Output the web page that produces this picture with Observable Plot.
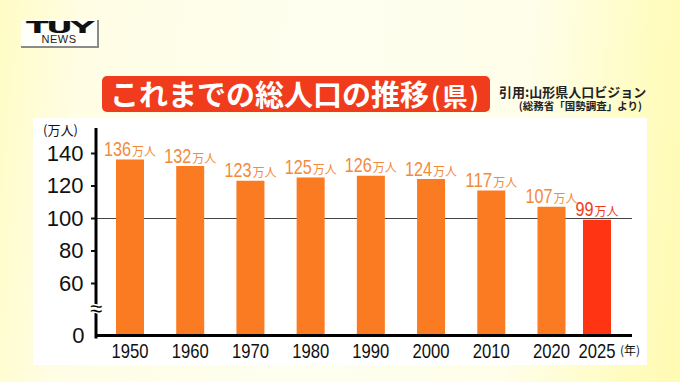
<!DOCTYPE html>
<html><head><meta charset="utf-8">
<script src="https://cdn.jsdelivr.net/npm/d3@7"></script>
<script src="https://cdn.jsdelivr.net/npm/@observablehq/plot@0.6"></script>
<style>
html,body{margin:0;padding:0;}
body{width:680px;height:382px;overflow:hidden;position:relative;
 background:linear-gradient(95deg,#fffcc6 0%,#fffde4 12%,#fefff0 45%,#fefeea 75%,#fffcc0 92%,#fffbb2 100%);
 font-family:"Noto Sans CJK JP","Noto Sans",sans-serif;}
.abs{position:absolute;}
#logo{left:21px;top:20px;width:76px;height:26px;border-right:2px solid #8a8a8a;border-bottom:2px solid #8a8a8a;background:#fffffa;}
#tuy{left:0;top:-4px;width:76px;text-align:center;font-family:"DejaVu Sans",sans-serif;font-weight:900;font-size:19px;color:#111;transform:scale(1.75,0.8);letter-spacing:-1.5px;}
#news{left:0;top:13px;width:76px;text-align:center;font-family:"Liberation Sans",sans-serif;font-size:11px;color:#222;letter-spacing:0.5px;}
#titlebar{left:102px;top:76px;width:388px;height:36px;background:#f03b1d;border-radius:5px;}
#title{left:110px;top:72px;color:#fff;font-weight:bold;font-size:29px;line-height:43px;white-space:nowrap;}
#title small{font-size:25px;letter-spacing:2px;margin-left:2px;}
#credit1{left:499px;top:82px;font-size:13px;font-weight:bold;color:#222;white-space:nowrap;}
#credit2{right:38px;top:98px;font-size:10.5px;font-weight:bold;color:#222;white-space:nowrap;}
#panel{left:33px;top:118px;width:614px;height:247px;background:#fff;}
#unitY{left:43px;top:120px;font-size:13px;color:#111;}
#unitX{left:620px;top:341px;font-size:12px;color:#111;}
#chart{left:0;top:0;width:680px;height:382px;}
#chart svg{display:block;}
</style></head>
<body>
<div id="logo" class="abs"><div id="tuy" class="abs">TUY</div><div id="news" class="abs">NEWS</div></div>
<div id="titlebar" class="abs"></div>
<div id="title" class="abs">これまでの総人口の推移<small>(県)</small></div>
<div id="credit1" class="abs">引用:山形県人口ビジョン</div>
<div id="credit2" class="abs">(総務省「国勢調査」より)</div>
<div id="panel" class="abs"></div>
<div id="chart" class="abs"></div>
<div id="unitY" class="abs">(万人)</div>
<div id="unitX" class="abs">(年)</div>
<script>
const years = [1950, 1960, 1970, 1980, 1990, 2000, 2010, 2020, 2025];
const population = [136, 132, 123, 125, 126, 124, 117, 107, 99];
const unit = "万人";
const yTicks = [60, 80, 100, 120, 140];
const referenceValue = 100;
const breakValue = 30;
const highlightYear = 2025;

const data = years.map((y, i) => ({year: y, value: population[i], label: population[i] + unit}));
const barColor = d => d.year === highlightYear ? "#fe3412" : "#fb7b22";
const labelColor = d => d.year === highlightYear ? "#f2391c" : "#f28a3c";
const sans = "'Liberation Sans',sans-serif";

const M = {left: 96, right: 48, top: 128, bottom: 45};

const chart = Plot.plot({
  width: 680,
  height: 382,
  marginLeft: M.left,
  marginRight: M.right,
  marginTop: M.top,
  marginBottom: M.bottom,
  style: {background: "transparent", overflow: "visible"},
  x: {type: "linear", domain: [1950, 2020, 2025], range: [129.5, 551, 596.5], axis: null},
  y: {type: "linear", domain: [0, 60, 140], range: [335, 283, 153], axis: null},
  marks: [
    Plot.ruleY([referenceValue], {stroke: "#444", strokeWidth: 1.2}),
    Plot.ruleX(data, {x: "year", y1: 0, y2: "value", stroke: barColor, strokeWidth: 28}),
    Plot.ruleY([0], {stroke: "#000", strokeWidth: 3}),
    Plot.axisY({ticks: yTicks, tickSize: 5, tickPadding: 8, fontSize: 22, strokeWidth: 2, fontFamily: sans, color: "#111", label: null}),
    Plot.axisY({ticks: [0], tickSize: 0, tickPadding: 12, fontSize: 22, fontFamily: sans, color: "#111", label: null}),
    Plot.axisX({ticks: years, tickFormat: d => String(d), tickSize: 0, tickPadding: 6, fontSize: 21, fontFamily: sans, color: "#111", label: null}),
    Plot.text(data, {x: "year", y: "value", text: "label", fill: labelColor, lineAnchor: "bottom", dy: -4, fontSize: 21, fontFamily: sans})
  ]
});
document.getElementById("chart").appendChild(chart);

const svg = d3.select(chart);

// condensed year labels; value labels with a small unit
svg.selectAll("text").each(function() {
  const t = this.textContent;
  if (/^\d{4}$/.test(t)) {
    d3.select(this).attr("textLength", 37).attr("lengthAdjust", "spacingAndGlyphs");
  } else if (t.endsWith(unit)) {
    const num = t.replace(unit, "");
    const sel = d3.select(this);
    sel.text(null);
    sel.append("tspan").attr("textLength", 9 * num.length).attr("lengthAdjust", "spacingAndGlyphs").text(num);
    sel.append("tspan").attr("font-size", 12).attr("font-family", "'Noto Sans CJK JP',sans-serif").attr("dx", 1).text(unit);
  }
});

// vertical axis line along the frame's left edge
svg.append("line")
  .attr("x1", M.left).attr("x2", M.left)
  .attr("y1", M.top).attr("y2", 382 - M.bottom + 1.5)
  .style("stroke", "#000").style("stroke-width", "3px");

// axis break symbol, with a white halo that interrupts the axis line
const ys = chart.scale("y");
svg.append("text")
  .attr("x", M.left).attr("y", ys.apply(breakValue))
  .attr("text-anchor", "middle").attr("dy", "0.32em")
  .attr("font-size", 22).attr("font-family", sans)
  .style("fill", "#000").style("stroke", "#fff").style("stroke-width", "3px").style("paint-order", "stroke")
  .text("≈");
</script>
</body></html>
